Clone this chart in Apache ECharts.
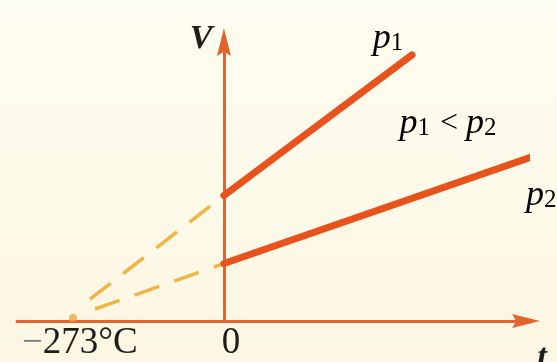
<!DOCTYPE html>
<html>
<head>
<meta charset="utf-8">
<script src="https://cdn.jsdelivr.net/npm/echarts@6/dist/echarts.min.js"></script>
<style>
  html, body { margin: 0; padding: 0; background: #fdf9ec; }
  #chart { width: 557px; height: 362px; }
</style>
</head>
<body>
<div id="chart"></div>
<script>
// temperature t (°C) and volume V (arbitrary units)
var absZero = -273;
var tickValues = [-273, 0];
var p1Line = [[0, 45.0], [340, 95.4]];
var p2Line = [[0, 20.6], [562, 59.2]];
var p1Dash = [[-242, 7.8], [0, 45.0]];
var p2Dash = [[-233, 4.3], [0, 20.6]];

var chart = echarts.init(document.getElementById('chart'));

var serif = '"Liberation Serif", "DejaVu Serif", serif';
var axisColor = '#e2642f';
var lineColor = '#e8521c';
var dashColor = '#f0b545';
var arrow = 'path://M5,0L10,20L5,17L0,20Z';

var pRich = {
    i: { fontFamily: serif, fontStyle: 'italic', fontSize: 36, color: '#1d1d1d' },
    s: { fontFamily: serif, fontSize: 25, color: '#1d1d1d', padding: [8, 0, 0, 0] },
    o: { fontFamily: serif, fontSize: 32, color: '#1d1d1d', padding: [0, 8, 0, 10] }
};

function txt(x, y, text, align) {
    return {
        type: 'text', x: x, y: y,
        style: { text: text, rich: pRich, align: align || 'center', verticalAlign: 'middle' }
    };
}

var option = {
    backgroundColor: {
        type: 'linear', x: 0, y: 0, x2: 0, y2: 1,
        colorStops: [{ offset: 0, color: '#fefdf1' }, { offset: 1, color: '#fcf6e2' }]
    },
    animation: false,
    grid: { left: 17, right: 31, top: 42, bottom: 38 },
    xAxis: {
        type: 'value',
        min: -374,
        max: 546,
        splitLine: { show: false },
        axisTick: { show: false },
        axisLine: {
            onZero: false,
            symbol: ['none', arrow],
            symbolSize: [14, 28],
            lineStyle: { color: axisColor, width: 3 }
        },
        axisLabel: {
            customValues: tickValues,
            margin: 4,
            fontFamily: serif,
            fontSize: 37,
            color: '#1d1d1d',
            padding: [0, 0, 0, 14],
            formatter: function (v) {
                return v === absZero ? '{m|−}' + '273°C' : String(v);
            },
            rich: { m: { fontFamily: serif, fontSize: 37, color: '#7a7f96' } }
        }
    },
    yAxis: {
        type: 'value',
        min: 0,
        max: 100,
        splitLine: { show: false },
        axisTick: { show: false },
        axisLabel: { show: false },
        axisLine: {
            onZero: true,
            symbol: ['none', arrow],
            symbolSize: [14, 28],
            lineStyle: { color: axisColor, width: 3 }
        }
    },
    graphic: [
        {
            type: 'text', x: 201, y: 39,
            style: { text: 'V', fontFamily: serif, fontStyle: 'italic', fontWeight: 'bold', fontSize: 34,
                     fill: '#1d1d1d', align: 'center', verticalAlign: 'middle' }
        },
        txt(388, 39, '{i|p}{s|1}'),
        txt(448, 124, '{i|p}{s|1}{o|<}{i|p}{s|2}'),
        txt(526, 196, '{i|p}{s|2}', 'left'),
        {
            type: 'text', x: 542, y: 358,
            style: { text: 't', fontFamily: serif, fontStyle: 'italic', fontWeight: 'bold', fontSize: 34,
                     fill: '#1d1d1d', align: 'center', verticalAlign: 'middle' }
        }
    ],
    series: [
        {
            type: 'line', data: p1Dash, showSymbol: false, clip: false, z: 3,
            lineStyle: { color: dashColor, width: 3.5, type: [26, 16] }
        },
        {
            type: 'line', data: p2Dash, showSymbol: false, clip: false, z: 3,
            lineStyle: { color: dashColor, width: 3.5, type: [26, 16] }
        },
        {
            type: 'line', data: p1Line, showSymbol: false, clip: false, z: 4,
            lineStyle: { color: lineColor, width: 7, cap: 'round' }
        },
        {
            type: 'line', data: p2Line, showSymbol: false, clip: false, z: 4,
            lineStyle: { color: lineColor, width: 7, cap: 'round' }
        },
        {
            type: 'scatter', data: [[absZero, 0]], symbol: 'circle', symbolSize: 8,
            symbolOffset: [0, -3], itemStyle: { color: '#eda548' }, z: 2
        }
    ]
};

chart.setOption(option);
</script>
</body>
</html>
